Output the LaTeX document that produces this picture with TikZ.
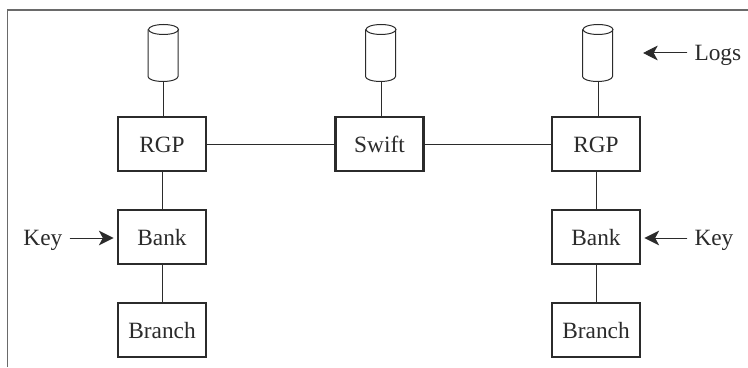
\documentclass[tikz,border=0pt]{standalone}
\usepackage{fontspec}
\setmainfont{Liberation Serif}
\usetikzlibrary{arrows.meta}
\definecolor{inkdark}{HTML}{2B2B2B}
\definecolor{framegray}{HTML}{6A6A6A}
\tikzset{every picture/.style={line width=0.75pt},
	unitbox/.style={draw=inkdark,line width=1.7pt,minimum width=66pt,minimum height=40pt,inner sep=0pt,font=\fontsize{17.5}{19}\selectfont,text=inkdark,text height=12.8pt,text depth=0pt},
	logdrum/.style={inner sep=0pt,minimum width=22.5pt,minimum height=42.75pt},
	sidetext/.style={font=\fontsize{17.5}{19}\selectfont,text=inkdark,inner sep=0pt,text height=14pt,text depth=2.4pt,anchor=west},
	wire/.style={draw=inkdark,line width=0.75pt}}
\begin{document}
\begin{tikzpicture}[>={Stealth[length=11pt,width=11pt,inset=3pt]},x=0.75pt,y=-0.75pt]
	\useasboundingbox (0,0) rectangle (748,367);
	%Khung ngoai
	\draw [framegray,line width=1.3pt] (7.5,367)--(7.5,10)--(748,10);
	%Hang tren
	\node[unitbox] (rgpL) at (162,144) {RGP};
	\node[unitbox] (swift) at (379.5,144) {Swift};
	\node[unitbox] (rgpR) at (596,144) {RGP};
	%Hang giua, hang duoi
	\node[unitbox] (bankL) at (162,237) {Bank};
	\node[unitbox] (bankR) at (596,237) {Bank};
	\node[unitbox] (branchL) at (162,330) {Branch};
	\node[unitbox] (branchR) at (596,330) {Branch};
	%Logs
	\node[logdrum] (logL) at (163.5,53.5) {};
	\node[logdrum] (logM) at (381,53.5) {};
	\node[logdrum] (logR) at (598,53.5) {};
	\foreach \drum in {logL,logM,logR}{
		\draw [wire] (\drum.north) ++(0,5) ellipse [x radius=15,y radius=5];
		\draw [wire] (\drum.north west) ++(0,5) --++(0,47) arc [start angle=180,end angle=0,x radius=15,y radius=5] --++(0,-47);
	}
	%Noi
	\draw [wire] (logL.south)--(logL.south|-rgpL.north);
	\draw [wire] (logM.south)--(logM.south|-swift.north);
	\draw [wire] (logR.south)--(logR.south|-rgpR.north);
	\draw [wire] (rgpL)--(swift);
	\draw [wire] (swift)--(rgpR);
	\draw [wire] (rgpL)--(bankL);
	\draw [wire] (bankL)--(branchL);
	\draw [wire] (rgpR)--(bankR);
	\draw [wire] (bankR)--(branchR);
	%Mui ten
	\node[sidetext] (keyL) at (23,238) {Key};
	\node[sidetext] (keyR) at (694,238) {Key};
	\node[sidetext] (logs) at (694,53) {Logs};
	\coordinate (logsTip) at (643,53);
	\draw [->,wire,fill=inkdark,shorten >=2.5pt,shorten <=5pt] (keyL.east)--(keyL.east-|bankL.west);
	\draw [->,wire,fill=inkdark,shorten >=2.5pt,shorten <=5pt] (keyR.west)--(keyR.west-|bankR.east);
	\draw [->,wire,fill=inkdark,shorten <=5pt] (logs.west)--(logsTip);
\end{tikzpicture}
\end{document}
